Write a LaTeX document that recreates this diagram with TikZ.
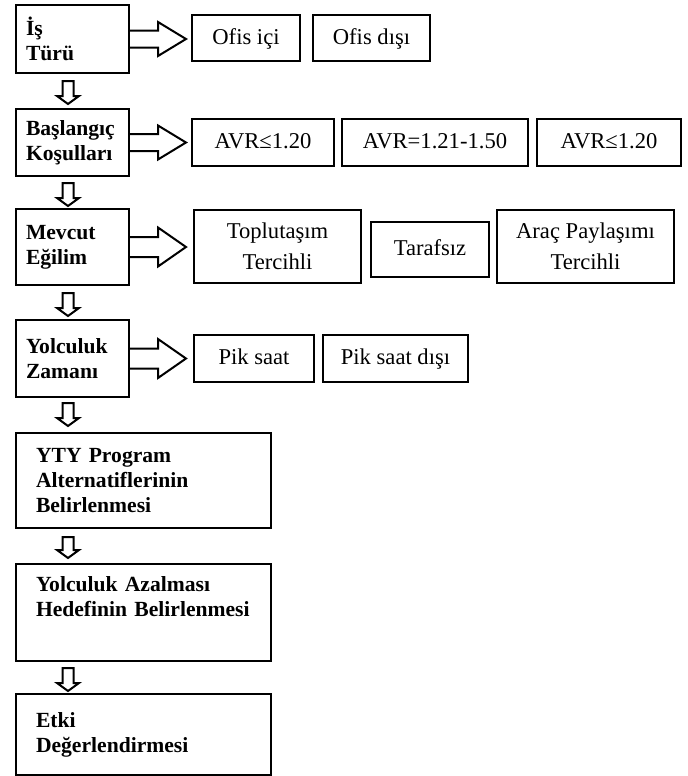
\documentclass[tikz,border=0pt]{standalone}
\usepackage{fontspec}
\setmainfont{Liberation Serif}
\usepackage{tikz}

\begin{document}
\begin{tikzpicture}[x=0.5pt, y=-0.5pt,
	mainbox/.style={draw, line width=1pt, text width=46.5pt, inner xsep=5pt, inner ysep=0pt, align=left, font=\fontsize{10.8}{12.5}\selectfont\bfseries},
	widebox/.style={mainbox, text width=107.5pt, inner xsep=10pt},
	option/.style={draw, line width=1pt, inner sep=0pt, align=center, font=\fontsize{11.3}{15.5}\selectfont},
	hollow/.style={draw, line width=1pt}]
	\useasboundingbox (0,0) rectangle (687,776);

	%Steps
	\node[mainbox, minimum height=34pt] (1) at (72.5,39) {İş\\Türü};
	\node[mainbox, minimum height=33.5pt] (2) at (72.5,142.5) {Başlangıç\\Koşulları};
	\node[mainbox, minimum height=38pt] (3) at (72.5,247) {Mevcut\\Eğilim};
	\node[mainbox, minimum height=38.5pt] (4) at (72.5,358.5) {Yolculuk\\Zamanı};
	\node[widebox, minimum height=47.5pt] (5) at (143.5,480.5) {YTY Program\\Alternatiflerinin\\Belirlenmesi};
	\node[widebox, minimum height=48.5pt] (6) at (143.5,612.5) {Yolculuk Azalması\\Hedefinin Belirlenmesi\\\strut};
	\node[widebox, minimum height=40.5pt] (7) at (143.5,734.5) {Etki\\Değerlendirmesi};

	%Options
	\node[option, minimum width=54pt, minimum height=23pt] (11) at (246,38) {Ofis içi\strut};
	\node[option, minimum width=58.5pt, minimum height=23pt] (12) at (371.5,38) {Ofis dışı\strut};
	\node[option, minimum width=71pt, minimum height=23.5pt] (21) at (263,142.5) {AVR≤1.20\strut};
	\node[option, minimum width=93pt, minimum height=23.5pt] (22) at (435,142.5) {AVR=1.21-1.50\strut};
	\node[option, minimum width=72pt, minimum height=23.5pt] (23) at (609,142.5) {AVR≤1.20\strut};
	\node[option, minimum width=83.5pt, minimum height=36.5pt] (31) at (277.5,246.5) {Toplutaşım\\Tercihli};
	\node[option, minimum width=59pt, minimum height=27.5pt] (32) at (430,249.5) {Tarafsız\strut};
	\node[option, minimum width=88.5pt, minimum height=36.5pt] (33) at (585.5,246.5) {Araç Paylaşımı\\Tercihli};
	\node[option, minimum width=60pt, minimum height=23.5pt] (41) at (254,358.5) {Pik saat\strut};
	\node[option, minimum width=72.5pt, minimum height=23.5pt] (42) at (395.5,358.5) {Pik saat dışı\strut};

	%Arrows to options
	\draw[hollow] (1.east) ++(0,-8.5) -- ++(28,0) -- ++(0,-8.5) -- ++(28,17) -- ++(-28,17) -- ++(0,-8.5) -- ++(-28,0);
	\draw[hollow] (2.east) ++(0,-8.5) -- ++(28,0) -- ++(0,-8.5) -- ++(28,17) -- ++(-28,17) -- ++(0,-8.5) -- ++(-28,0);
	\draw[hollow] (3.east) ++(0,-10) -- ++(28,0) -- ++(0,-9.5) -- ++(28,19.5) -- ++(-28,19.5) -- ++(0,-9.5) -- ++(-28,0);
	\draw[hollow] (4.east) ++(0,-10) -- ++(28,0) -- ++(0,-9.5) -- ++(28,19.5) -- ++(-28,19.5) -- ++(0,-9.5) -- ++(-28,0);

	%Arrows between steps
	\draw[hollow] (1.south west) ++(47.5,7) -- ++(0,15) -- ++(-5.5,0) -- ++(11,8) -- ++(11,-8) -- ++(-5.5,0) -- ++(0,-15) -- cycle;
	\draw[hollow] (2.south west) ++(47.5,6) -- ++(0,15) -- ++(-5.5,0) -- ++(11,8) -- ++(11,-8) -- ++(-5.5,0) -- ++(0,-15) -- cycle;
	\draw[hollow] (3.south west) ++(47.5,7) -- ++(0,15) -- ++(-5.5,0) -- ++(11,8) -- ++(11,-8) -- ++(-5.5,0) -- ++(0,-15) -- cycle;
	\draw[hollow] (4.south west) ++(47.5,5) -- ++(0,15) -- ++(-5.5,0) -- ++(11,8) -- ++(11,-8) -- ++(-5.5,0) -- ++(0,-15) -- cycle;
	\draw[hollow] (5.south west) ++(47.5,8) -- ++(0,13) -- ++(-5.5,0) -- ++(11,8) -- ++(11,-8) -- ++(-5.5,0) -- ++(0,-13) -- cycle;
	\draw[hollow] (6.south west) ++(47.5,6) -- ++(0,15) -- ++(-5.5,0) -- ++(11,8) -- ++(11,-8) -- ++(-5.5,0) -- ++(0,-15) -- cycle;
\end{tikzpicture}
\end{document}
